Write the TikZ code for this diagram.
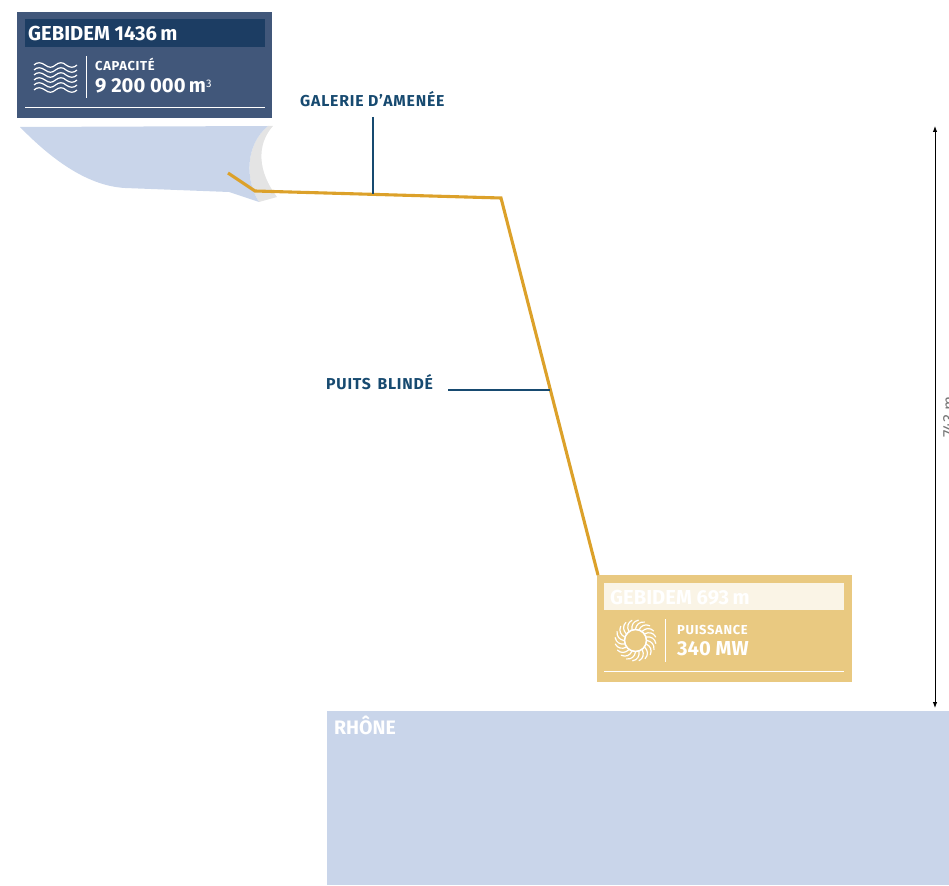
\documentclass[tikz,border=0pt]{standalone}
\usepackage{fontspec}
\setmainfont{Fira Sans}
\usetikzlibrary{arrows.meta,calc}
\definecolor{boxblue}{HTML}{41577A}
\definecolor{headblue}{HTML}{1C3D63}
\definecolor{water}{HTML}{C9D5EA}
\definecolor{rockgrey}{HTML}{E4E4E4}
\definecolor{gold}{HTML}{DCA12A}
\definecolor{boxgold}{HTML}{E9C981}
\definecolor{headgold}{HTML}{FAF4E6}
\definecolor{navy}{HTML}{174A70}
\definecolor{dimgrey}{HTML}{777777}
\tikzset{
  x=1pt,y=-1pt,
  txt/.style={inner sep=0pt,anchor=base west,font=\bfseries},
  lbl/.style={txt,text=navy,font=\bfseries\fontsize{15.8}{15.8}\selectfont\addfontfeature{LetterSpace=5}},
  small/.style={txt,text=white,font=\bfseries\fontsize{13}{13}\selectfont\addfontfeature{LetterSpace=5}},
  big/.style={txt,text=white,font=\bfseries\fontsize{20.2}{20.2}\selectfont},
  boxline/.style={white,line width=1pt},
  leader/.style={navy,line width=1.6pt},
  pipe/.style={gold,line width=3.1pt,line join=miter},
  wave/.style={white,line width=1.2pt},
  dimline/.style={black,line width=.9pt,{Latex[length=6pt,width=4.5pt]}-{Latex[length=6pt,width=4.5pt]}}
}
\begin{document}
\begin{tikzpicture}
\useasboundingbox (0,0) rectangle (949,885);
\clip (0,0) rectangle (949,885);
% water bodies
\fill[rockgrey] (268,126) -- (273,126) .. controls (256,145) and (258,172) .. (277,197)
  -- (259,202) .. controls (245,180) and (245,145) .. cycle;
\fill[water] (20,127) -- (268,126) .. controls (245,145) and (245,180) .. (259,202)
  -- (229,192) -- (125,188) .. controls (90,186) and (55,163) .. cycle;
\node[fill=water,inner sep=0pt,minimum width=622pt,minimum height=174pt,anchor=north west] (rhone) at (327,711) {};
\node[txt,text=white,font=\bfseries\fontsize{19.5}{19.5}\selectfont] (rhonetxt) at (334,734.5) {RHÔNE};
% upper box
\node[fill=boxblue,inner sep=0pt,minimum width=255pt,minimum height=106pt,anchor=north west] (upperbox) at (17,12) {};
\node[fill=headblue,inner sep=0pt,minimum width=240pt,minimum height=28pt,anchor=north west] (upperhead) at (25,19) {};
\node[big] (uppertitle) at (28,40.5) {GEBIDEM 1436\,m};
\draw[boxline] (86.5,56) -- (86.5,98.5);
\draw[boxline] (25,107.5) -- (265,107.5);
\node[small] (capa) at (95,70.5) {CAPACITÉ};
\node[big] (capaval) at (95,93) {9 200 000\,m\raisebox{.5ex}{\normalfont\fontsize{11}{11}\selectfont 3}};
\foreach \y in {65,70,75,80,85,90}{
  \draw[wave] (34,\y) .. controls (37,\y-3) and (41,\y-3) .. (45,\y) .. controls (49,\y+3) and (52,\y+3) .. (55.5,\y)
     .. controls (59,\y-3) and (63,\y-3) .. (66,\y) .. controls (70,\y+3) and (74,\y+3) .. (77,\y);
}
% lower box
\node[fill=boxgold,inner sep=0pt,minimum width=255pt,minimum height=107pt,anchor=north west] (lowerbox) at (597,575) {};
\node[fill=headgold,inner sep=0pt,minimum width=240pt,minimum height=27pt,anchor=north west] (lowerhead) at (604,583) {};
\node[big] (lowertitle) at (610,604) {GEBIDEM 693\,m};
\draw[boxline] (665.5,619) -- (665.5,662);
\draw[boxline] (604,671.5) -- (844,671.5);
\node[small] (puis) at (677,634) {PUISSANCE};
\node[big] (puisval) at (677,655) {340 MW};
\coordinate (sun) at (635.5,640.5);
\draw[white,line width=1.6pt] (sun) circle (11);
\foreach \a in {0,18,...,342}{
  \draw[white,line width=1.2pt,line cap=round] ($(sun)+(\a:11.5)$) .. controls ($(sun)+(\a+3:16)$) and ($(sun)+(\a+12:19.5)$) .. ($(sun)+(\a+26:20.5)$);
}
% penstock
\coordinate (intake) at (228,173);
\coordinate (bend1) at (255,191);
\coordinate (bend2) at (501,198);
\coordinate (bend3) at (598,575);
\draw[pipe] (intake) -- (bend1) -- (bend2) -- (bend3);
% labels & leaders
\node[lbl] (galerie) at (300,106.5) {GALERIE D’AMENÉE};
\node[lbl] (puits) at (326,389.5) {PUITS\hspace{2pt} BLINDÉ};
\coordinate (galtop) at (373,117);
\coordinate (galend) at (373,194);
\coordinate (puistart) at (448,390);
\coordinate (puiend) at (550,390);
\draw[leader] (galtop) -- (galend);
\draw[leader] (puistart) -- (puiend);
% dimension
\coordinate (dimtop) at (935,126);
\coordinate (dimbot) at (935,708);
\draw[dimline] (dimtop) -- (dimbot);
\node[inner sep=0pt,rotate=90,text=dimgrey,font=\fontsize{16.5}{16.5}\selectfont,anchor=north] (dimtxt) at (943,417) {743 m};
\end{tikzpicture}
\end{document}
